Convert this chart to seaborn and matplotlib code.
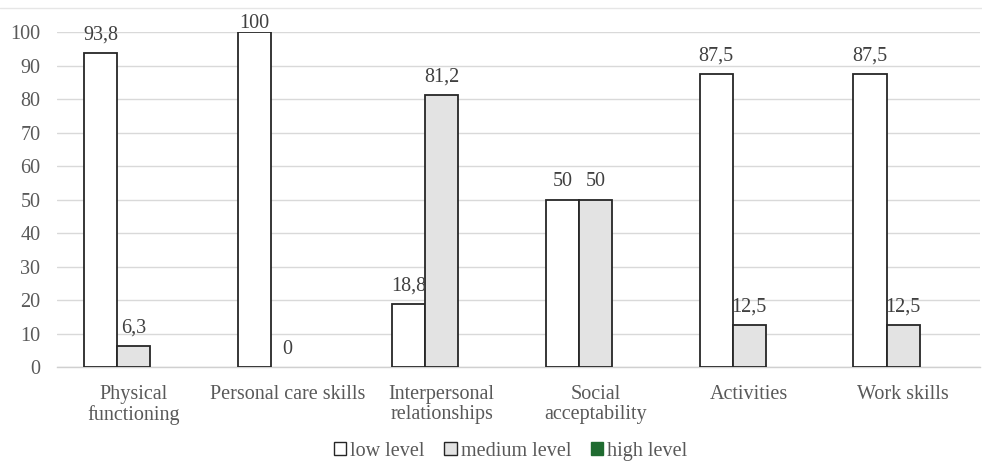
import matplotlib
matplotlib.use("Agg")
import matplotlib.pyplot as plt
from matplotlib.patches import Patch
from matplotlib.lines import Line2D
import seaborn as sns
import pandas as pd

categories = ["Physical\nfunctioning", "Personal care skills", "Interpersonal\nrelationships",
              "Social\nacceptability", "Activities", "Work skills"]
low_level = [93.8, 100, 18.8, 50, 87.5, 87.5]
medium_level = [6.3, 0, 81.2, 50, 12.5, 12.5]
high_level = [0, 0, 0, 0, 0, 0]
series_names = ["low level", "medium level", "high level"]
y_ticks = list(range(0, 101, 10))

colors = ["#ffffff", "#e3e3e3", "#1f6b30"]

rows = []
for name, vals in zip(series_names, [low_level, medium_level, high_level]):
    for c, v in zip(categories, vals):
        rows.append({"category": c, "level": name, "value": v})
df = pd.DataFrame(rows)

sns.set_theme(style="white")
plt.rcParams["font.family"] = ["Liberation Serif", "DejaVu Serif"]

FS = 14.5
fig = plt.figure(figsize=(9.82, 4.66), dpi=100)
ax = fig.add_axes([0.058, 0.2124, 0.94, 0.7189])

sns.barplot(data=df, x="category", y="value", hue="level", order=categories,
            hue_order=series_names, palette=colors, edgecolor="#262626",
            linewidth=1.3, width=0.645, ax=ax, legend=False, errorbar=None,
            saturation=1, zorder=3)

for cont in ax.containers:
    for p in cont:
        if p.get_height() == 0:
            p.set_linewidth(0)

ax.set_ylim(0, 100)
ax.set_yticks(y_ticks)
ax.set_xlim(-0.5, len(categories) - 0.5)
ax.grid(axis="y", color="#d9d9d9", linewidth=1.0, zorder=0)
ax.set_axisbelow(True)
for s in ["top", "right", "left"]:
    ax.spines[s].set_visible(False)
ax.spines["bottom"].set_color("#d0d0d0")
ax.spines["bottom"].set_linewidth(1.0)
ax.set_xlabel("")
ax.set_ylabel("")
ax.tick_params(axis="y", length=0, pad=12, labelsize=FS, labelcolor="#595959")
ax.tick_params(axis="x", length=0, pad=13, labelsize=FS, labelcolor="#595959")
for t in ax.get_xticklabels():
    t.set_linespacing(1.1)

def fmt(v):
    return f"{v:g}".replace(".", ",")

for cont, vals in zip(ax.containers[:2], [low_level, medium_level]):
    labs = ax.bar_label(cont, labels=[fmt(v) for v in vals], padding=6,
                        fontsize=FS, color="#404040")
    for l, v in zip(labs, vals):
        l.set_clip_on(False)
        if v >= 100:
            l.xyann = (0, -1)

handles = [Patch(facecolor=c, edgecolor="#262626" if i < 2 else c, linewidth=1.0)
           for i, c in enumerate(colors)]
fig.legend(handles, series_names, loc="lower center", bbox_to_anchor=(0.52, -0.028),
           ncol=3, frameon=False, fontsize=FS, labelcolor="#595959",
           handlelength=0.6, handleheight=0.6, handletextpad=0.2, columnspacing=1.0)

fig.add_artist(Line2D([0, 1], [1 - 8 / 466, 1 - 8 / 466], transform=fig.transFigure,
                      color="#e6e6e6", linewidth=1.0))

fig.savefig("out.png", dpi=100, facecolor="white")
